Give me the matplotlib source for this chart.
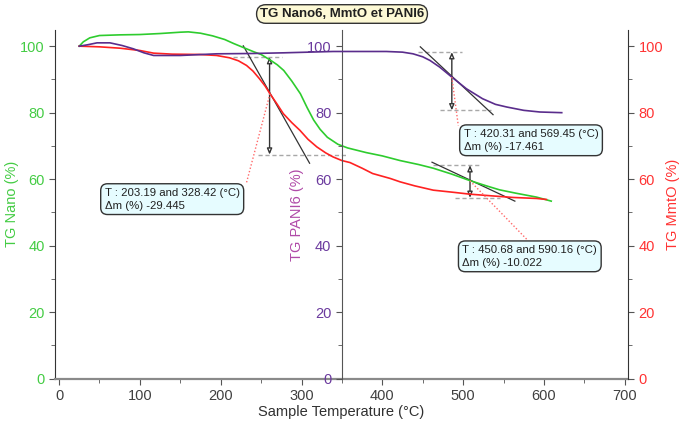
import matplotlib
matplotlib.use('Agg')
import matplotlib.pyplot as plt
from matplotlib.ticker import MultipleLocator

plt.rcParams['font.family'] = ['Liberation Sans', 'DejaVu Sans']

# ---- data ----
nano_T = [25, 30, 38, 50, 75, 100, 125, 150, 160, 175, 190, 205, 216, 230, 241, 250,
          261.5, 270, 278, 288, 298.6, 307, 315, 323, 332, 345, 357, 380, 400, 422,
          445, 463, 485, 508, 530, 545, 565, 591, 609]
nano_tg = [100.0, 101.3, 102.5, 103.2, 103.4, 103.5, 103.8, 104.2, 104.3, 103.9, 103.1,
           102.0, 100.8, 99.4, 98.3, 97.5, 95.8, 94.4, 92.7, 89.5, 85.7, 81.5, 77.8,
           75.0, 72.6, 70.5, 69.4, 68.0, 67.0, 65.6, 64.4, 63.3, 61.6, 59.6, 57.9,
           56.8, 55.8, 54.6, 53.4]

mmt_T = [25, 50, 75, 100, 117, 140, 174, 195, 211, 222, 232, 240, 248, 255, 261, 270,
         277.5, 288, 298, 308, 319, 330, 339, 350, 360, 375, 388, 410, 422, 440, 463,
         490, 508, 540, 562, 591, 603]
mmt_tg = [100.0, 99.8, 99.4, 98.7, 97.9, 97.6, 97.5, 97.2, 96.5, 95.6, 94.2, 92.5, 90.2,
          88.0, 85.7, 82.5, 79.7, 77.0, 74.7, 72.0, 69.7, 67.9, 66.7, 65.6, 65.0, 63.3,
          61.7, 60.2, 59.2, 58.0, 56.7, 56.0, 55.5, 54.9, 54.5, 54.2, 53.9]

pani_T = [25, 35, 47, 63, 78, 92, 105, 117, 150, 195, 240, 278, 339, 405, 425, 438, 450,
          459, 471, 486, 504, 524, 540, 554, 575, 595, 622]
pani_tg = [100.0, 100.4, 101.0, 101.0, 100.2, 99.2, 98.0, 97.2, 97.2, 97.7, 97.8, 98.0,
           98.4, 98.4, 98.2, 97.7, 96.8, 95.7, 93.7, 90.7, 87.2, 84.2, 82.5, 81.7, 80.7,
           80.2, 80.0]

x_ticks = [0, 100, 200, 300, 400, 500, 600, 700]
y_ticks = [0, 20, 40, 60, 80, 100]

step_T1 = [203.19, 420.31, 450.68]
step_T2 = [328.42, 569.45, 590.16]
step_dm = [-29.445, -17.461, -10.022]

title = 'TG Nano6, MmtO et PANI6'

# ---- colours ----
c_green = '#2ecc2e'
c_green_t = '#44cc44'
c_red = '#ff2222'
c_red_t = '#ff3333'
c_purple = '#5a2d8c'
c_purple_t = '#6b3a9e'
c_purple_lab = '#b04aa8'

fig = plt.figure(figsize=(6.85, 4.22), dpi=100)
ax = fig.add_axes([0.0803, 0.1026, 0.8365, 0.8274])
ax2 = ax.twinx()
ax3 = ax.twinx()

for a in (ax, ax2, ax3):
    a.set_ylim(0, 105)
    a.set_xlim(-5, 704)
ax2.patch.set_visible(False)
ax3.patch.set_visible(False)

# main axis (Nano, left)
ax.spines['top'].set_visible(False)
ax.spines['right'].set_visible(False)
ax.spines['left'].set_color('#333333')
ax.spines['bottom'].set_color('#8a8a8a')
ax.spines['bottom'].set_linewidth(1.6)
ax.set_xticks(x_ticks)
ax.xaxis.set_minor_locator(MultipleLocator(50))
ax.set_yticks(y_ticks)
ax.yaxis.set_minor_locator(MultipleLocator(10))
ax.tick_params(axis='x', colors='#555555', labelcolor='#404040', labelsize=10.5, length=4)
ax.tick_params(axis='x', which='minor', colors='#555555', length=3)
ax.tick_params(axis='y', which='both', colors='#555555', labelcolor=c_green_t, labelsize=10.5)
ax.tick_params(axis='y', which='major', length=4)
ax.tick_params(axis='y', which='minor', length=3)
ax.set_xlabel('Sample Temperature (°C)', fontsize=10.5, color='#303030', labelpad=1)
ax.set_ylabel('TG Nano (%)', fontsize=10.5, color=c_green_t)
ax.yaxis.set_label_coords(-0.062, 0.5)

# MmtO (right)
for s in ('left', 'top', 'bottom'):
    ax2.spines[s].set_visible(False)
ax2.spines['right'].set_color('#333333')
ax2.set_yticks(y_ticks)
ax2.yaxis.set_minor_locator(MultipleLocator(10))
ax2.tick_params(axis='y', which='both', colors='#555555', labelcolor=c_red_t, labelsize=10.5)
ax2.tick_params(axis='y', which='major', length=4)
ax2.tick_params(axis='y', which='minor', length=3)
ax2.set_ylabel('TG MmtO (%)', fontsize=10.5, color=c_red_t)
ax2.yaxis.set_label_coords(1.066, 0.5)

# PANI6 (middle)
for s in ('right', 'top', 'bottom'):
    ax3.spines[s].set_visible(False)
ax3.spines['left'].set_visible(True)
ax3.spines['left'].set_position(('data', 350))
ax3.spines['left'].set_color('#555555')
ax3.yaxis.set_ticks_position('left')
ax3.yaxis.set_label_position('left')
ax3.set_yticks(y_ticks)
ax3.yaxis.set_minor_locator(MultipleLocator(10))
ax3.tick_params(axis='y', which='both', colors='#555555', labelcolor=c_purple_t, labelsize=10.5)
ax3.tick_params(axis='y', which='major', length=4)
ax3.tick_params(axis='y', which='minor', length=3)
ax3.set_ylabel('TG PANI6 (%)', fontsize=10.5, color=c_purple_lab)
ax3.yaxis.set_label_coords(0.435, 0.47)

# ---- curves ----
ax.plot(nano_T, nano_tg, color=c_green, lw=1.2, zorder=3)
ax2.plot(mmt_T, mmt_tg, color=c_red, lw=1.2, zorder=3)
ax3.plot(pani_T, pani_tg, color=c_purple, lw=1.2, zorder=3)


def step(x_arrow, y_top, y_bot, top_span, bot_span, tang, infl, conn, box_xy, i):
    dash = dict(color='#a8a8a8', lw=1.0, ls=(0, (3, 2)), zorder=1)
    ax.plot(top_span, [y_top, y_top], **dash)
    ax.plot(bot_span, [y_bot, y_bot], **dash)
    ax.plot(tang[0], tang[1], color='#333333', lw=0.9, zorder=2)
    ax.annotate('', xy=(x_arrow, y_bot), xytext=(x_arrow, y_top),
                arrowprops=dict(arrowstyle='<|-|>,head_length=0.35,head_width=0.15',
                                fc='white', ec='#333333', lw=1.0,
                                shrinkA=0, shrinkB=0), zorder=2)
    ax3.plot([infl[0], conn[0]], [infl[1], conn[1]], color='#ff6a6a', lw=1.0,
             ls=(0, (1, 1.5)), zorder=4)
    txt = 'T : %.2f and %.2f (°C)\nΔm (%%) %.3f' % (step_T1[i], step_T2[i], step_dm[i])
    ax3.text(box_xy[0], box_xy[1], txt, fontsize=8.2, color='#202020', ha='center',
             va='center', multialignment='left', linespacing=1.35, zorder=6,
             bbox=dict(boxstyle='round,pad=0.35,rounding_size=0.6', fc='#e6fcff',
                       ec='#333333', lw=1.0))


step(260.5, 96.7, 67.4, [215, 276], [246, 355], ([228, 310], [100.1, 64.8]),
     (261, 85.7), (232, 59.0), (140, 54.0), 0)
step(486, 98.2, 80.7, [444, 499], [471, 534], ([447, 537], [99.8, 79.4]),
     (486, 90.7), (494, 76.1), (584, 71.7), 1)
step(508.5, 64.2, 54.4, [463, 521], [490, 545], ([461.5, 564], [65.1, 53.4]),
     (508.5, 59.5), (580, 41.6), (582.5, 36.8), 2)

fig.text(342 / 685, 1 - 14 / 422, title, fontsize=9.5, fontweight='bold', color='#202020',
         ha='center', va='center',
         bbox=dict(boxstyle='round,pad=0.25,rounding_size=0.7', fc='#fdf9d5', ec='#333333', lw=1.0))

fig.savefig('out.png', dpi=100)
